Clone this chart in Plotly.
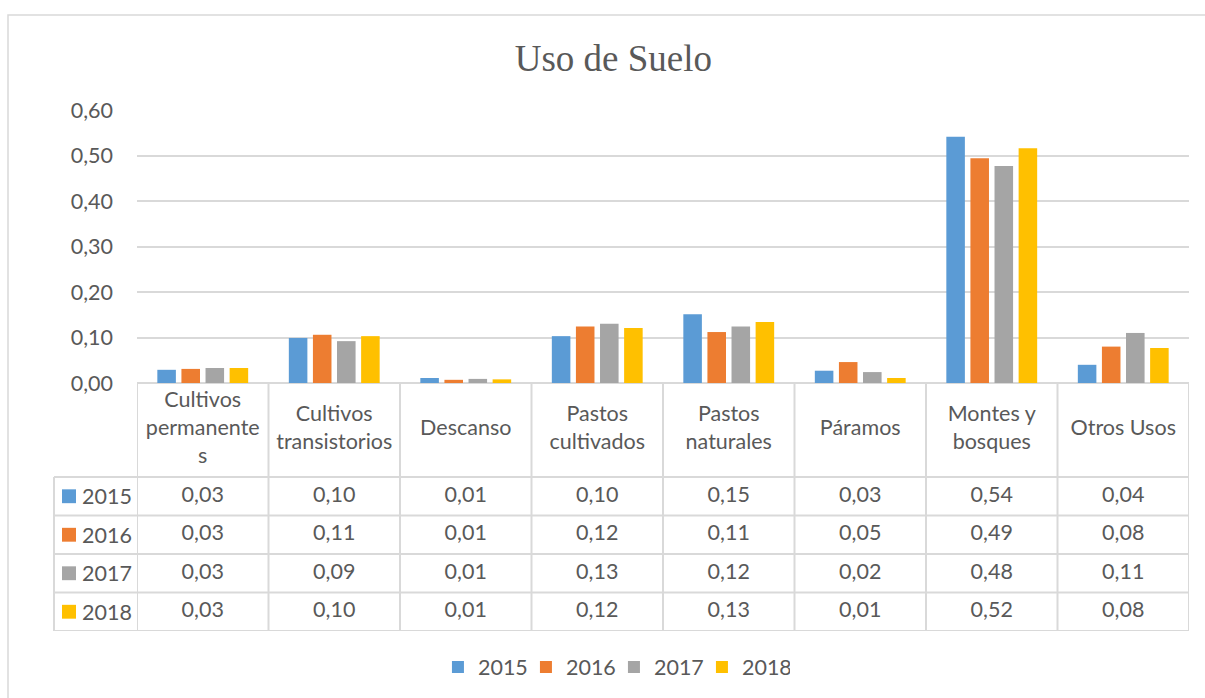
import plotly.graph_objects as go

categories = ["Cultivos permanentes", "Cultivos transistorios", "Descanso", "Pastos cultivados",
              "Pastos naturales", "Páramos", "Montes y bosques", "Otros Usos"]
header_labels = ["Cultivos<br>permanente<br>s", "Cultivos<br>transistorios", "Descanso", "Pastos<br>cultivados",
                 "Pastos<br>naturales", "Páramos", "Montes y<br>bosques", "Otros Usos"]
years = ["2015", "2016", "2017", "2018"]
v2015 = [0.029, 0.099, 0.011, 0.103, 0.151, 0.027, 0.541, 0.040]
v2016 = [0.031, 0.106, 0.007, 0.124, 0.112, 0.046, 0.494, 0.080]
v2017 = [0.033, 0.092, 0.009, 0.130, 0.124, 0.024, 0.477, 0.110]
v2018 = [0.033, 0.103, 0.008, 0.121, 0.134, 0.011, 0.516, 0.077]
series = [v2015, v2016, v2017, v2018]
colors = ["#5B9BD5", "#ED7D31", "#A5A5A5", "#FFC000"]

W, H = 1205, 698
FONT = "Lato"
TXT = "#595959"
GRID = "#D9D9D9"
FS = 21.5

def px(x):
    return x / W

def py(y):
    return 1 - y / H

hdr = 94 / 38.5  # header height in row units

fig = go.Figure()
for name, vals, col in zip(years, series, colors):
    fig.add_trace(go.Bar(x=categories, y=vals, name=name, marker=dict(color=col, line=dict(width=0)),
                         xaxis="x", yaxis="y"))

# table text
fig.add_trace(go.Scatter(x=categories, y=[-hdr / 2] * len(categories), text=header_labels, mode="text",
                         textfont=dict(family=FONT, size=FS, color=TXT), showlegend=False,
                         hoverinfo="skip", xaxis="x", yaxis="y2", cliponaxis=False))
for i, vals in enumerate(series):
    fig.add_trace(go.Scatter(x=categories, y=[i + 0.5] * len(categories),
                             text=[f"{v:.2f}".replace(".", ",") for v in vals], mode="text",
                             textfont=dict(family=FONT, size=FS, color=TXT), showlegend=False,
                             hoverinfo="skip", xaxis="x", yaxis="y2", cliponaxis=False))

shapes = []
# outer chart border
shapes.append(dict(type="rect", xref="paper", yref="paper", x0=px(8), x1=1.05, y0=-0.05, y1=py(15),
                   line=dict(color=GRID, width=1.5), layer="below"))
# vertical table lines
for k in range(len(categories) + 1):
    shapes.append(dict(type="line", xref="x", yref="y2", x0=k - 0.5, x1=k - 0.5, y0=-hdr, y1=4,
                       line=dict(color=GRID, width=2)))
# horizontal table lines
for r in range(5):
    shapes.append(dict(type="line", xref="paper", yref="y2", x0=px(54), x1=px(1189), y0=r, y1=r,
                       line=dict(color=GRID, width=2)))
shapes.append(dict(type="line", xref="paper", yref="y2", x0=px(54), x1=px(54), y0=0, y1=4,
                   line=dict(color=GRID, width=2)))
annotations = []
for i, (name, col) in enumerate(zip(years, colors)):
    shapes.append(dict(type="rect", xref="paper", yref="y2", x0=px(62), x1=px(76),
                       y0=i + 0.5 - 0.18, y1=i + 0.5 + 0.18, fillcolor=col, line=dict(width=0)))
    annotations.append(dict(xref="paper", yref="y2", x=px(80), y=i + 0.5, text=name, showarrow=False,
                            xanchor="left", yanchor="middle", font=dict(family=FONT, size=FS, color=TXT)))

fig.update_layout(
    width=W, height=H,
    margin=dict(l=0, r=0, t=0, b=0, autoexpand=False),
    paper_bgcolor="white", plot_bgcolor="white",
    separators=",.",
    title=dict(text="Uso de Suelo", x=0.509, xanchor="center", y=py(58), yanchor="middle",
               font=dict(family="Liberation Serif", size=37, color=TXT)),
    barmode="group", bargap=0.267, bargroupgap=0.23,
    xaxis=dict(domain=[px(137), px(1189)], type="category", range=[-0.5, 7.5], showticklabels=False,
               showgrid=False, showline=False, zeroline=False, fixedrange=True, anchor="y"),
    yaxis=dict(domain=[py(383), py(110)], range=[0, 0.6], dtick=0.1, tickformat=".2f",
               showgrid=True, gridcolor=GRID, gridwidth=1.5, zeroline=True, zerolinecolor=GRID,
               zerolinewidth=2, showline=False, ticks="", ticklabelstandoff=23,
               tickfont=dict(family=FONT, size=FS, color=TXT)),
    yaxis2=dict(domain=[py(631), py(383)], range=[4, -hdr], showgrid=False, zeroline=False,
                showticklabels=False, showline=False, anchor="x"),
    legend=dict(orientation="h", x=0.5095, xanchor="center", y=py(667), yanchor="middle",
                font=dict(family=FONT, size=FS, color=TXT), entrywidth=43, entrywidthmode="pixels",
                itemclick=False, itemdoubleclick=False),
    shapes=shapes, annotations=annotations,
)

fig.write_html("out.html", config={"displayModeBar": False},
               post_script="document.body.style.margin='0';")
